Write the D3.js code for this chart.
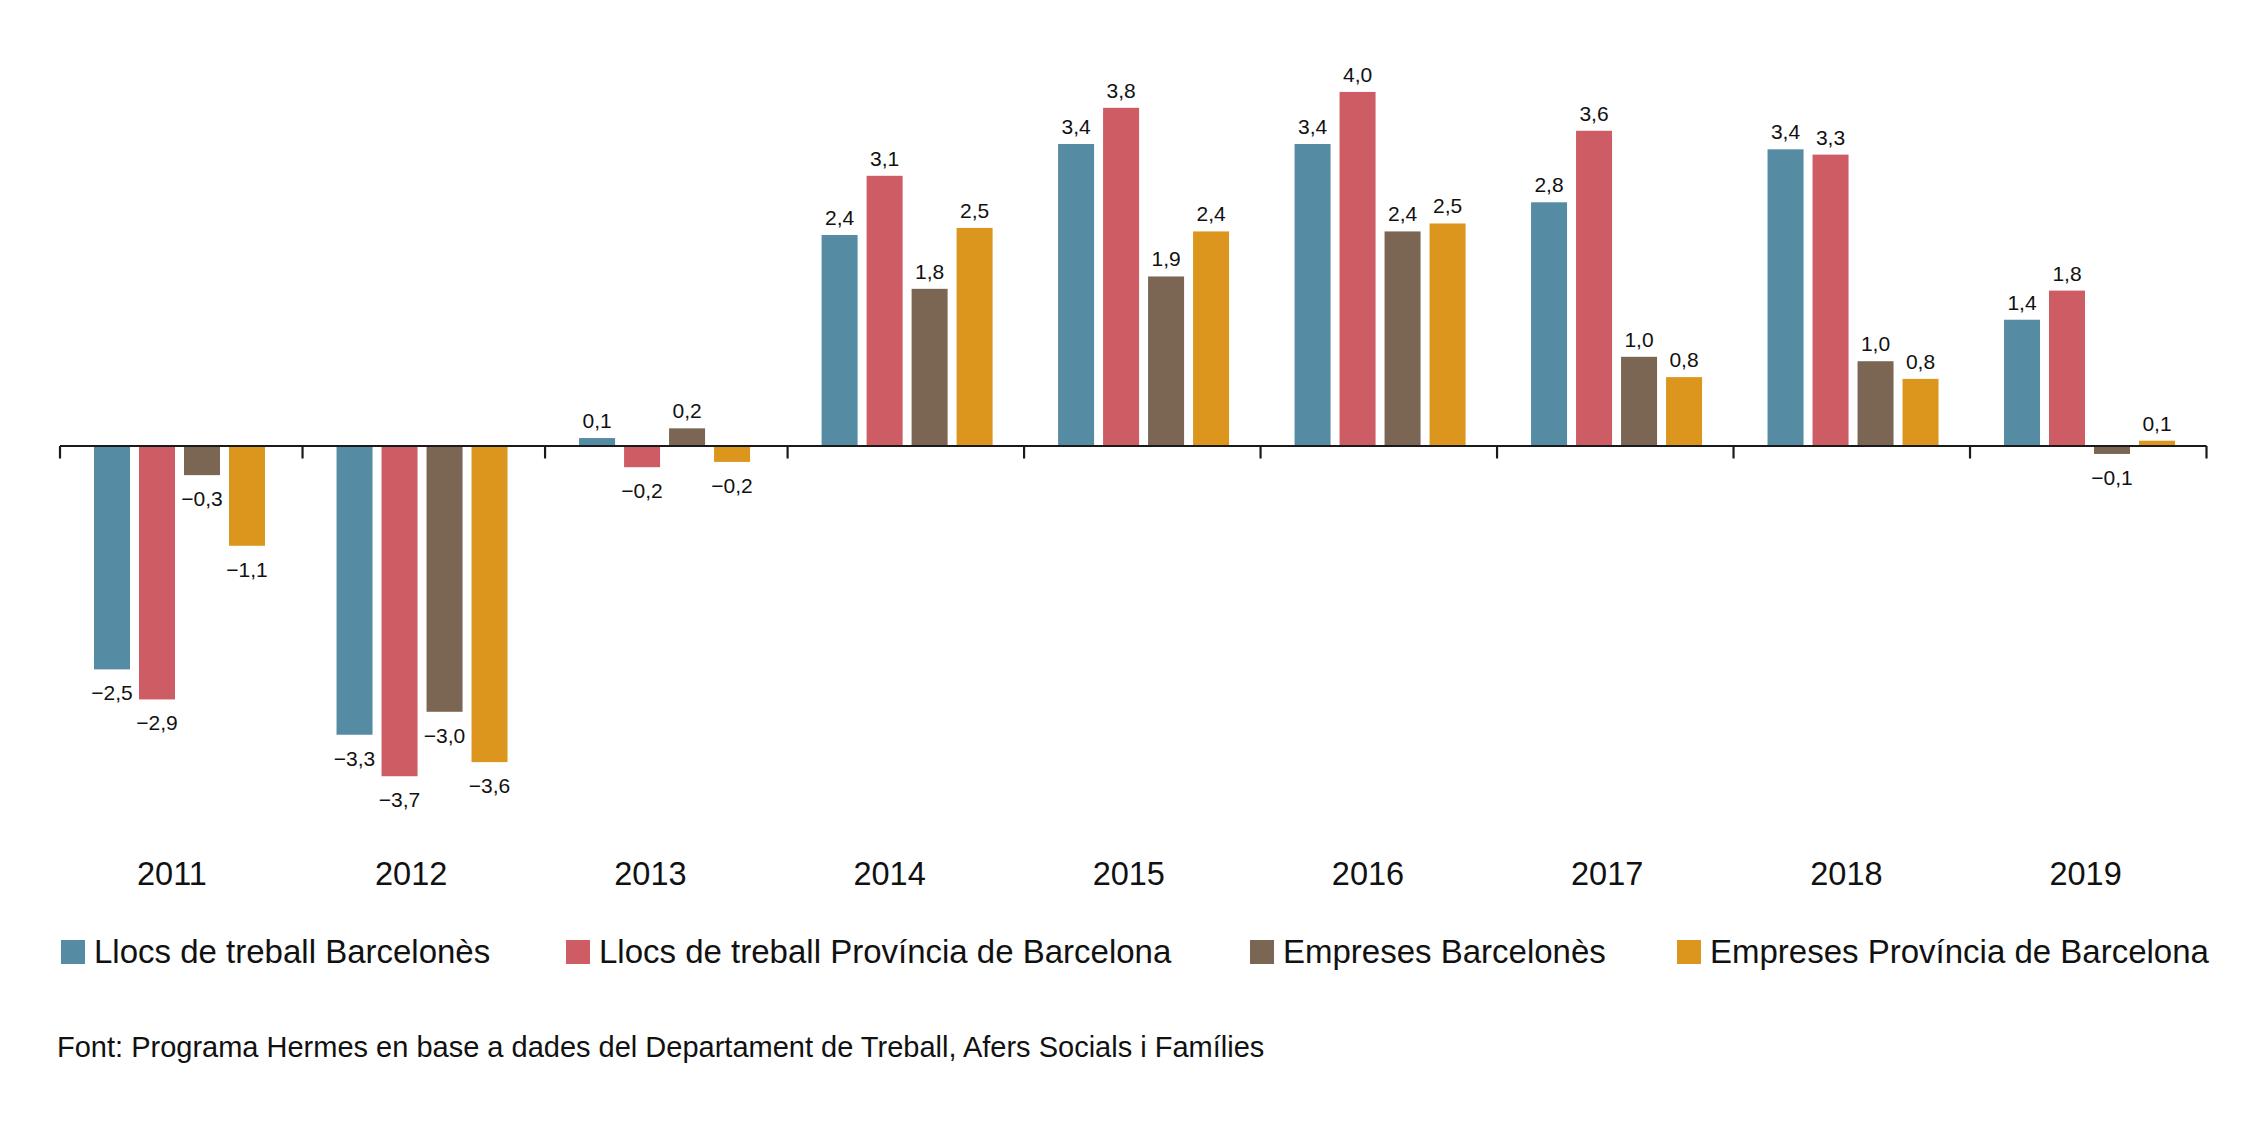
<!DOCTYPE html>
<html>
<head>
<meta charset="utf-8">
<script src="https://cdn.jsdelivr.net/npm/d3@7"></script>
<style>
  html, body { margin: 0; padding: 0; background: #fff; }
  svg { display: block; font-family: "Liberation Sans", Arial, Helvetica, sans-serif; }
</style>
</head>
<body>
<svg id="chart" width="2268" height="1122"></svg>
<script>
const years = ["2011","2012","2013","2014","2015","2016","2017","2018","2019"];
const seriesNames = [
  "Llocs de treball Barcelonès",
  "Llocs de treball Província de Barcelona",
  "Empreses Barcelonès",
  "Empreses Província de Barcelona"
];
const seriesColors = ["#558CA3", "#CD5C64", "#7A6652", "#DC951D"];
// values (labels show them rounded to one decimal)
const llocsBarcelones    = [-2.53, -3.27, 0.09, 2.39, 3.42, 3.42, 2.76, 3.36, 1.43];
const llocsProvincia     = [-2.87, -3.74, -0.24, 3.06, 3.83, 4.01, 3.57, 3.30, 1.76];
const empresesBarcelones = [-0.33, -3.01, 0.20, 1.78, 1.92, 2.43, 1.01, 0.96, -0.09];
const empresesProvincia  = [-1.13, -3.58, -0.18, 2.47, 2.43, 2.52, 0.78, 0.76, 0.06];
const sourceText = "Font: Programa Hermes en base a dades del Departament de Treball, Afers Socials i Famílies";

const seriesValues = [llocsBarcelones, llocsProvincia, empresesBarcelones, empresesProvincia];

const locale = d3.formatLocale({decimal: ",", thousands: ".", grouping: [3], currency: ["", "€"], minus: "\u2212"});
const fmt = locale.format(".1f");

const svg = d3.select("#chart");

// band boundaries (the first three bands in the original are slightly wider)
const xb = d3.scaleLinear().domain([0, 3, years.length]).range([60, 787.6, 2206.5]);
const idx = new Map(years.map((d, i) => [d, i]));
const bandStart = yr => xb(idx.get(yr));
const x1 = d3.scaleBand().domain(d3.range(seriesNames.length)).range([34, 205]).paddingInner(0.2).paddingOuter(0);
const xLabel = d3.scalePoint().domain(years).range([172, 2085.6]);
const y = d3.scaleLinear().domain([-4, 4]).range([799.2, 92.8]);

const data = [];
years.forEach((yr, i) => {
  seriesValues.forEach((vals, s) => data.push({year: yr, s: s, v: vals[i]}));
});

// bars
svg.append("g").selectAll("rect").data(data).join("rect")
  .attr("x", d => bandStart(d.year) + x1(d.s))
  .attr("width", x1.bandwidth())
  .attr("y", d => y(Math.max(0, d.v)))
  .attr("height", d => Math.abs(y(d.v) - y(0)))
  .attr("fill", d => seriesColors[d.s]);

// value labels
svg.append("g").selectAll("text").data(data).join("text")
  .attr("x", d => bandStart(d.year) + x1(d.s) + x1.bandwidth() / 2)
  .attr("y", d => d.v >= 0 ? y(d.v) - 10 : y(d.v) + 31)
  .attr("text-anchor", "middle")
  .attr("font-size", 21)
  .attr("fill", "#111")
  .text(d => fmt(d.v));

// axis line + ticks at band boundaries
const axisG = svg.append("g");
axisG.append("line")
  .attr("x1", xb(0)).attr("x2", xb(years.length))
  .attr("y1", y(0)).attr("y2", y(0))
  .attr("stroke", "#1a1a1a").attr("stroke-width", 2.2);
const boundaries = d3.range(years.length + 1).map(i => xb(i));
axisG.selectAll("line.tick").data(boundaries).join("line")
  .attr("class", "tick")
  .attr("x1", d => d).attr("x2", d => d)
  .attr("y1", y(0)).attr("y2", y(0) + 12.5)
  .attr("stroke", "#1a1a1a").attr("stroke-width", 2.2);

// year labels
svg.append("g").selectAll("text").data(years).join("text")
  .attr("x", d => xLabel(d))
  .attr("y", 885)
  .attr("text-anchor", "middle")
  .attr("font-size", 32.5)
  .attr("fill", "#111")
  .text(d => d);

// legend
const legendX = [61, 566, 1250, 1677];
const lg = svg.append("g").selectAll("g").data(seriesNames).join("g")
  .attr("transform", (d, i) => `translate(${legendX[i]},952)`);
lg.append("rect")
  .attr("x", 0).attr("y", -12).attr("width", 24).attr("height", 24)
  .attr("fill", (d, i) => seriesColors[i]);
lg.append("text")
  .attr("x", 33).attr("y", 11)
  .attr("font-size", 33)
  .attr("fill", "#111")
  .text(d => d);

// source
svg.append("text")
  .attr("x", 57).attr("y", 1057)
  .attr("font-size", 29)
  .attr("fill", "#111")
  .text(sourceText);
</script>
</body>
</html>
